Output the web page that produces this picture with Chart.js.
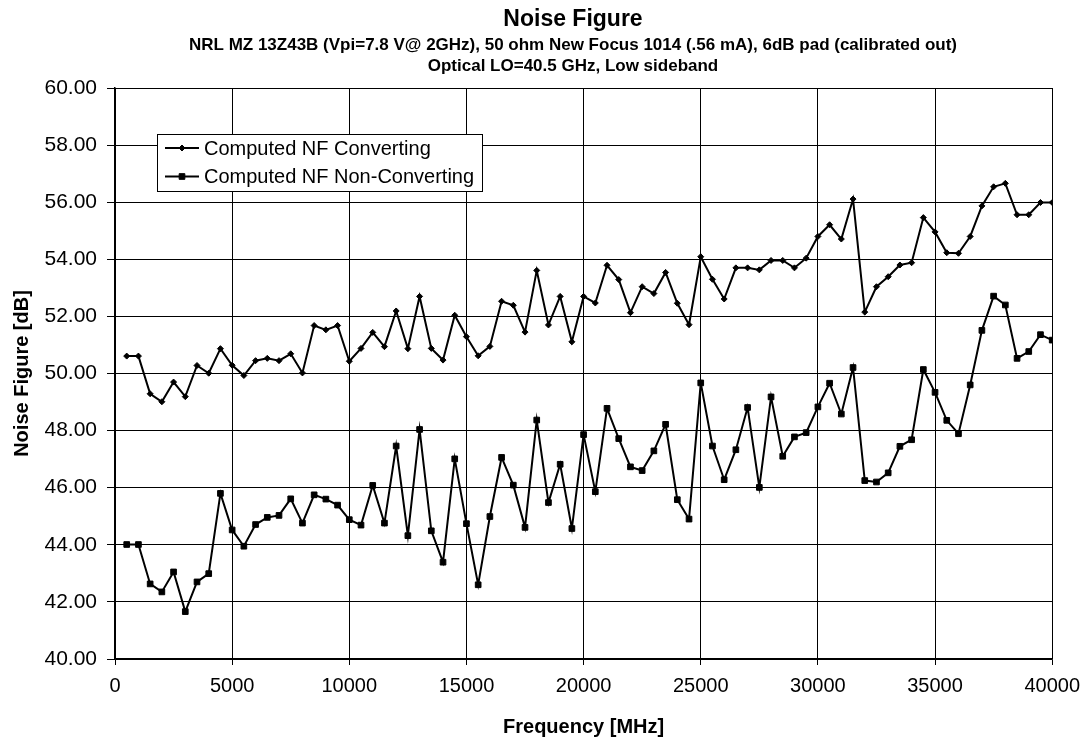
<!DOCTYPE html>
<html>
<head>
<meta charset="utf-8">
<title>Noise Figure</title>
<script src="https://cdn.jsdelivr.net/npm/chart.js@4.4.1/dist/chart.umd.min.js"></script>
<style>
  body { margin: 0; background: #fff; }
  #wrap { width: 1089px; height: 744px; }
</style>
</head>
<body>
<div id="wrap"><canvas id="grafico-nf" width="1089" height="744"></canvas></div>
<script>
// frequencias medidas (MHz)
const frequencias = [
    500, 1000, 1500, 2000, 2500, 3000, 3500, 4000, 4500, 5000,
    5500, 6000, 6500, 7000, 7500, 8000, 8500, 9000, 9500, 10000,
    10500, 11000, 11500, 12000, 12500, 13000, 13500, 14000, 14500, 15000,
    15500, 16000, 16500, 17000, 17500, 18000, 18500, 19000, 19500, 20000,
    20500, 21000, 21500, 22000, 22500, 23000, 23500, 24000, 24500, 25000,
    25500, 26000, 26500, 27000, 27500, 28000, 28500, 29000, 29500, 30000,
    30500, 31000, 31500, 32000, 32500, 33000, 33500, 34000, 34500, 35000,
    35500, 36000, 36500, 37000, 37500, 38000, 38500, 39000, 39500, 40000
];

// NF calculado, convertendo (dB)
const nfConvertendo = [
    50.61, 50.61, 49.29, 49.01, 49.70, 49.19, 50.28, 50.01, 50.87, 50.29,
    49.93, 50.45, 50.53, 50.45, 50.69, 50.02, 51.68, 51.53, 51.68, 50.43,
    50.88, 51.44, 50.94, 52.19, 50.87, 52.70, 50.88, 50.47, 52.04, 51.29,
    50.62, 50.95, 52.53, 52.39, 51.45, 53.61, 51.70, 52.70, 51.11, 52.70,
    52.47, 53.79, 53.29, 52.13, 53.04, 52.80, 53.54, 52.46, 51.71, 54.09,
    53.30, 52.61, 53.70, 53.70, 53.63, 53.96, 53.96, 53.70, 54.04, 54.80,
    55.21, 54.71, 56.11, 52.15, 53.04, 53.39, 53.80, 53.88, 55.46, 54.96,
    54.23, 54.21, 54.80, 55.87, 56.54, 56.66, 55.56, 55.56, 55.99, 55.99
];

// NF calculado, sem conversao (dB)
const nfSemConversao = [
    44.01, 44.01, 42.63, 42.35, 43.05, 41.66, 42.70, 42.99, 45.80, 44.52,
    43.95, 44.71, 44.96, 45.03, 45.61, 44.76, 45.75, 45.60, 45.39, 44.88,
    44.69, 46.08, 44.76, 47.46, 44.32, 48.04, 44.49, 43.39, 47.01, 44.74,
    42.60, 44.99, 47.06, 46.09, 44.61, 48.37, 45.48, 46.82, 44.57, 47.86,
    45.86, 48.78, 47.72, 46.73, 46.60, 47.29, 48.22, 45.58, 44.90, 49.67,
    47.46, 46.28, 47.33, 48.81, 46.01, 49.18, 47.10, 47.78, 47.93, 48.83,
    49.66, 48.58, 50.21, 46.25, 46.20, 46.52, 47.45, 47.68, 50.14, 49.34,
    48.36, 47.89, 49.60, 51.51, 52.71, 52.40, 50.53, 50.77, 51.36, 51.17
];

const nomesSeries = ["Computed NF Converting", "Computed NF Non-Converting"];

const titulo = "Noise Figure";
const subtitulo = [
    "NRL MZ 13Z43B (Vpi=7.8 V@ 2GHz), 50 ohm New Focus 1014 (.56 mA), 6dB pad (calibrated out)",
    "Optical LO=40.5 GHz, Low sideband"
];

const fonte = "'Liberation Sans', Arial, sans-serif";

function pares(valores) {
    return valores.map((v, i) => ({ x: frequencias[i], y: v }));
}

// titulo e subtitulo no topo
const cabecalho = {
    id: "cabecalho",
    afterDraw(chart) {
        const ctx = chart.ctx;
        const cx = 573;
        ctx.save();
        ctx.fillStyle = "#000";
        ctx.textAlign = "center";
        ctx.textBaseline = "middle";
        ctx.font = "bold 23px " + fonte;
        ctx.fillText(titulo, cx, 20);
        ctx.font = "bold 17px " + fonte;
        subtitulo.forEach((linha, i) => {
            ctx.fillText(linha, cx, 45 + i * 21);
        });
        ctx.restore();
    }
};

// legenda desenhada dentro da area do grafico
const legendaInterna = {
    id: "legendaInterna",
    afterDraw(chart) {
        const ctx = chart.ctx;
        const x0 = 157.5, y0 = 134.5, w = 325, h = 57;
        ctx.save();
        ctx.fillStyle = "#fff";
        ctx.fillRect(x0, y0, w, h);
        ctx.strokeStyle = "#000";
        ctx.lineWidth = 1;
        ctx.strokeRect(x0, y0, w, h);

        chart.data.datasets.forEach((ds, i) => {
            const y = 148 + i * 28.5;
            ctx.strokeStyle = "#000";
            ctx.fillStyle = "#000";
            ctx.lineWidth = 2;
            ctx.beginPath();
            ctx.moveTo(165, y);
            ctx.lineTo(199, y);
            ctx.stroke();
            ctx.lineWidth = 1;
            Chart.helpers.drawPoint(ctx, {
                pointStyle: ds.pointStyle,
                radius: ds.pointRadius,
                borderWidth: 1
            }, 182, y);
            ctx.font = "20px " + fonte;
            ctx.textAlign = "left";
            ctx.textBaseline = "middle";
            ctx.fillText(ds.label, 204, y + 1);
        });
        ctx.restore();
    }
};

const fundoBranco = {
    id: "fundoBranco",
    beforeDraw(chart) {
        const ctx = chart.ctx;
        ctx.save();
        ctx.fillStyle = "#fff";
        ctx.fillRect(0, 0, chart.width, chart.height);
        ctx.restore();
    }
};

const ctx = document.getElementById("grafico-nf").getContext("2d");

new Chart(ctx, {
    type: "line",
    data: {
        datasets: [
            {
                label: nomesSeries[0],
                data: pares(nfConvertendo),
                borderColor: "#000",
                backgroundColor: "#000",
                pointBackgroundColor: "#000",
                pointBorderColor: "#000",
                borderWidth: 2,
                pointStyle: "rectRot",
                pointRadius: 3,
                pointBorderWidth: 1,
                tension: 0
            },
            {
                label: nomesSeries[1],
                data: pares(nfSemConversao),
                borderColor: "#000",
                backgroundColor: "#000",
                pointBackgroundColor: "#000",
                pointBorderColor: "#000",
                borderWidth: 2,
                pointStyle: "rect",
                pointRadius: 4,
                pointBorderWidth: 1,
                tension: 0
            }
        ]
    },
    options: {
        responsive: false,
        animation: false,
        layout: { padding: { left: 0, right: 35, top: 88, bottom: 0 } },
        scales: {
            x: {
                type: "linear",
                min: 0,
                max: 40000,
                ticks: {
                    stepSize: 5000,
                    color: "#000",
                    padding: 9,
                    font: { family: fonte, size: 20 },
                    maxRotation: 0,
                    callback: v => String(v)
                },
                grid: { color: "#000", lineWidth: 1, tickLength: 6 },
                border: { color: "#000", width: 1.5 },
                title: {
                    display: true,
                    text: "Frequency [MHz]",
                    color: "#000",
                    font: { family: fonte, size: 20, weight: "bold" },
                    padding: { top: 0, bottom: 5 }
                },
                afterFit(scale) { scale.height = 85; }
            },
            y: {
                min: 40,
                max: 60,
                ticks: {
                    stepSize: 2,
                    color: "#000",
                    padding: 10,
                    font: { family: fonte, size: 21 },
                    callback: v => v.toFixed(2)
                },
                grid: { color: "#000", lineWidth: 1, tickLength: 8 },
                border: { color: "#000", width: 1.5 },
                title: {
                    display: true,
                    text: "Noise Figure [dB]",
                    color: "#000",
                    font: { family: fonte, size: 20, weight: "bold" },
                    padding: { top: 10, bottom: 0 }
                },
                afterFit(scale) { scale.width = 115; }
            }
        },
        plugins: {
            legend: { display: false },
            tooltip: { enabled: false },
            title: { display: false }
        }
    },
    plugins: [fundoBranco, cabecalho, legendaInterna]
});
</script>
</body>
</html>
